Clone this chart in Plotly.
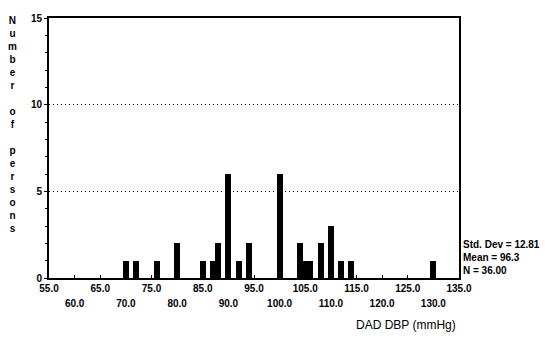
import plotly.graph_objects as go

dbp_values = [70, 72, 76, 80, 85, 87, 88, 90, 92, 94, 100, 104, 105, 106, 108, 110, 112, 114, 130]
counts = [1, 1, 1, 2, 1, 1, 2, 6, 1, 2, 6, 2, 1, 1, 2, 3, 1, 1, 1]
x_ticks_row1 = [55, 65, 75, 85, 95, 105, 115, 125, 135]
x_ticks_row2 = [60, 70, 80, 90, 100, 110, 120, 130]
y_ticks = [0, 5, 10, 15]
stats_lines = ["Std. Dev = 12.81", "Mean = 96.3", "N = 36.00"]
y_title_letters = list("Number") + [" "] + list("of") + [" "] + list("persons")
x_title = "DAD DBP (mmHg)"

BOLD = "Liberation Sans, Arial, sans-serif"
tickfont = dict(size=10, family=BOLD, weight="bold")

fig = go.Figure()
fig.add_trace(go.Bar(x=dbp_values, y=counts, width=1.15,
                     marker=dict(color="black", line=dict(width=0))))
# invisible helper trace for the second row of tick labels
fig.add_trace(go.Scatter(x=[55, 135], y=[0, 0], xaxis="x2", mode="markers",
                         marker=dict(opacity=0), hoverinfo="skip"))

fig.update_layout(
    width=545, height=341,
    margin=dict(l=49, r=86, t=12, b=63),
    paper_bgcolor="white", plot_bgcolor="white",
    showlegend=False,
    font=dict(family=BOLD, color="black"),
    xaxis=dict(range=[55, 135], tickvals=x_ticks_row1,
               ticktext=["%.1f" % v for v in x_ticks_row1],
               showgrid=False, zeroline=False, showline=True, linecolor="black",
               linewidth=2, mirror=True, ticks="inside", ticklen=3, tickcolor="black",
               tickfont=tickfont, ticklabelstandoff=0),
    xaxis2=dict(range=[55, 135], overlaying="x", side="bottom", anchor="y",
                tickvals=x_ticks_row2, ticktext=["%.1f" % v for v in x_ticks_row2],
                showgrid=False, zeroline=False, showline=False, ticks="inside",
                ticklen=3, tickcolor="black", tickfont=tickfont, ticklabelstandoff=18),
    yaxis=dict(range=[0, 15], tickvals=y_ticks, showgrid=True, gridcolor="black",
               griddash="1px,3px", gridwidth=1, zeroline=False, showline=True,
               linecolor="black", linewidth=2, mirror=True, ticks="outside", ticklen=3,
               tickcolor="black", tickfont=tickfont,
               minor=dict(dtick=1, ticks="outside", ticklen=2, tickcolor="black", showgrid=False)),
    bargap=0,
)

for i, line in enumerate(stats_lines):
    fig.add_annotation(text=line, xref="paper", yref="paper", x=1.005, xanchor="left",
                       y=(278 - (244 + 13 * i)) / 266, yanchor="middle", showarrow=False,
                       font=dict(size=10, family=BOLD, weight="bold"))

fig.add_annotation(text="<br>".join(y_title_letters), xref="paper", yref="paper",
                   x=-37 / 410, xanchor="center", y=1.02, yanchor="top", showarrow=False,
                   align="center", font=dict(size=10, family=BOLD, weight="bold"))

fig.add_annotation(text=x_title, xref="paper", yref="paper", x=(406 - 49) / 410,
                   xanchor="center", y=-48 / 266, yanchor="middle", showarrow=False,
                   font=dict(size=12, family=BOLD))

fig.write_html("out.html")
